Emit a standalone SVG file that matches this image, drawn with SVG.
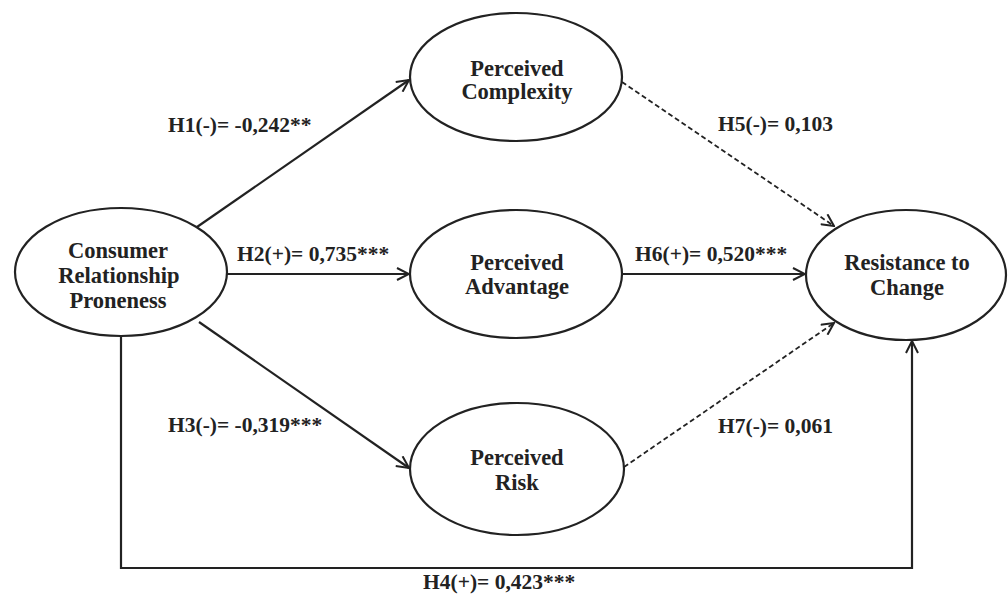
<svg xmlns="http://www.w3.org/2000/svg" width="1008" height="596" viewBox="0 0 1008 596">
<style>
.node ellipse{fill:#fff;stroke:#222;stroke-width:2.2}
.node text,.lbl{font-family:"Liberation Serif","Times New Roman",serif;font-weight:bold;fill:#222}
.lbl{font-size:21.5px}
.node text{text-anchor:middle;font-size:22.5px}
.c{fill:none;stroke:#222;stroke-width:2.2}
.d{stroke-dasharray:5,3;stroke-width:1.8}
</style>
<defs>
<marker id="ah" viewBox="0 0 14 14" refX="13" refY="7" markerWidth="14" markerHeight="14" markerUnits="userSpaceOnUse" orient="auto">
<path d="M1,1 L13,7 L1,13" fill="none" stroke="#222" stroke-width="2"/>
</marker>
</defs>
<rect width="1008" height="596" fill="#fff"/>
<g id="connectors">
<line class="c" x1="197" y1="227" x2="409" y2="80" marker-end="url(#ah)"/>
<line class="c" x1="227" y1="274" x2="409" y2="274" marker-end="url(#ah)"/>
<line class="c" x1="199" y1="322" x2="409" y2="468" marker-end="url(#ah)"/>
<line class="c d" x1="622" y1="82" x2="834" y2="226" marker-end="url(#ah)"/>
<line class="c" x1="622" y1="274" x2="805" y2="274" marker-end="url(#ah)"/>
<line class="c d" x1="624" y1="467" x2="834" y2="323" marker-end="url(#ah)"/>
<polyline class="c" points="121,336 121,568 912,568 912,341" marker-end="url(#ah)"/>
</g>
<g id="labels">
<text class="lbl" x="168" y="132">H1(-)= -0,242**</text>
<text class="lbl" x="237" y="261">H2(+)= 0,735***</text>
<text class="lbl" x="168" y="432">H3(-)= -0,319***</text>
<text class="lbl" x="718" y="131">H5(-)= 0,103</text>
<text class="lbl" x="635" y="261">H6(+)= 0,520***</text>
<text class="lbl" x="718" y="433">H7(-)= 0,061</text>
<text class="lbl" x="423" y="589">H4(+)= 0,423***</text>
</g>
<g id="crp" class="node">
<ellipse cx="121" cy="272" rx="106" ry="64"/>
<text x="118" y="258">Consumer</text>
<text x="119" y="283">Relationship</text>
<text x="118" y="308">Proneness</text>
</g>
<g id="complexity" class="node">
<ellipse cx="516" cy="77" rx="106" ry="64"/>
<text x="517" y="76">Perceived</text>
<text x="517" y="99">Complexity</text>
</g>
<g id="advantage" class="node">
<ellipse cx="516" cy="274" rx="106" ry="64"/>
<text x="517" y="270">Perceived</text>
<text x="517" y="294">Advantage</text>
</g>
<g id="risk" class="node">
<ellipse cx="517" cy="469" rx="107" ry="66"/>
<text x="517" y="465">Perceived</text>
<text x="517" y="490">Risk</text>
</g>
<g id="resistance" class="node">
<ellipse cx="906" cy="275" rx="100" ry="65"/>
<text x="907" y="270">Resistance to</text>
<text x="907" y="295">Change</text>
</g>
</svg>
